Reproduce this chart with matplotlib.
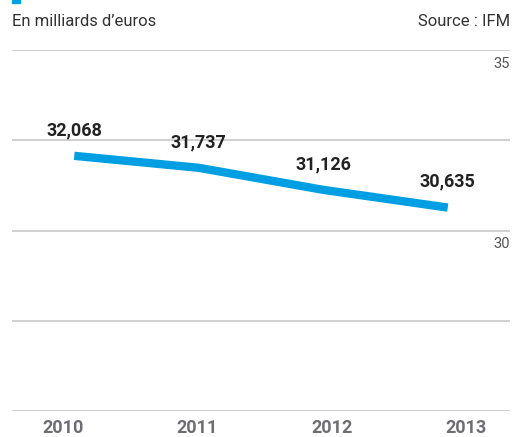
import matplotlib.pyplot as plt
import numpy as np
from matplotlib.transforms import blended_transform_factory

plt.rcParams['font.family'] = ['Liberation Sans Narrow', 'Roboto', 'DejaVu Sans']

# Data
years = ['2010', '2011', '2012', '2013']
values = [32.068, 31.737, 31.126, 30.635]
value_labels = ['32,068', '31,737', '31,126', '30,635']
y_grid = [25, 27.5, 30, 32.5, 35]
y_labels = {35: '35', 30: '30'}

blue = '#009fe3'
grey = '#c8c8c8'

fig = plt.figure(figsize=(5.14, 4.37), dpi=100)
ax = fig.add_axes([12 / 514, 1 - 411 / 437, 498 / 514, 361 / 437])

x = np.arange(len(years))
ax.plot(x, values, color=blue, lw=6, solid_capstyle='butt', solid_joinstyle='round')

for xi, v, lab in zip(x, values, value_labels):
    ax.annotate(lab, (xi, v), xytext=(0, 12), textcoords='offset points',
                ha='center', va='bottom', fontsize=13, fontweight='bold', color='#222222')

for g in y_grid:
    ax.axhline(g, color=grey, lw=1.2, zorder=0)
for g, lab in y_labels.items():
    ax.annotate(lab, (1, g), xycoords=('axes fraction', 'data'), xytext=(0, -5),
                textcoords='offset points', ha='right', va='top', fontsize=10.5, color='#555555')

trans = blended_transform_factory(ax.transData, ax.transAxes)
for i, yr in enumerate(years):
    ax.text(i * 1.08 - 0.09, -0.048, yr, transform=trans, ha='center', va='center',
            fontsize=13, fontweight='bold', color='#6d6d72')

ax.set_xlim(-0.5, 3.5)
ax.set_ylim(25, 35)
ax.axis('off')

fig.text(12 / 514, 1 - 22 / 437, 'En milliards d\u2019euros', ha='left', va='center',
         fontsize=12, color='#333333')
fig.text(510 / 514, 1 - 22 / 437, 'Source : IFM', ha='right', va='center',
         fontsize=12, color='#333333')
fig.patches.append(plt.Rectangle((12 / 514, 1 - 3 / 437), 8 / 514, 3 / 437,
                                 transform=fig.transFigure, color=blue))

fig.savefig('out.png', dpi=100)
